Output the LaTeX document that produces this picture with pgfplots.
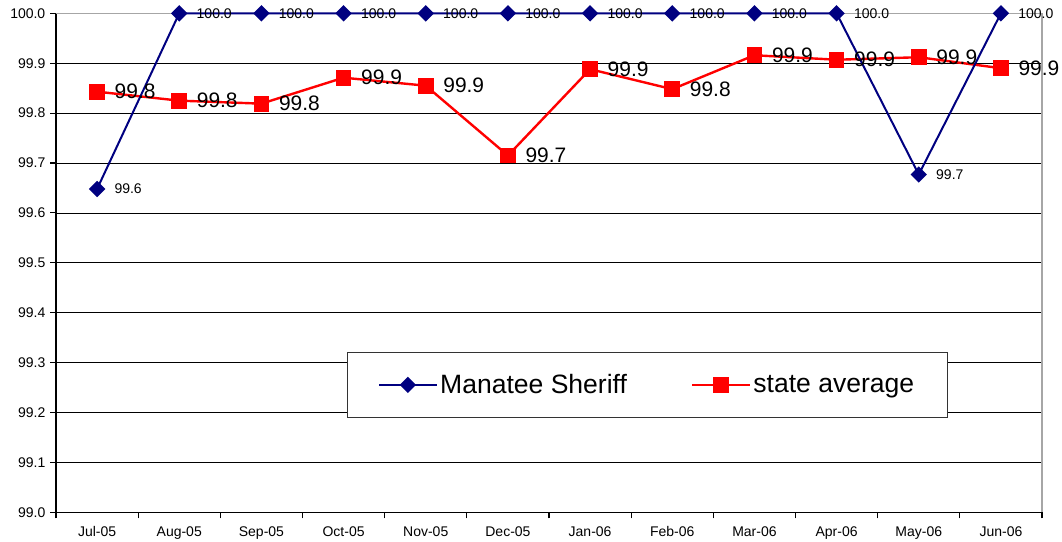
\documentclass[border=0pt]{standalone}
\usepackage{fontspec}
\setmainfont{Liberation Sans}
\usepackage{pgfplots}
\pgfplotsset{compat=1.18}
\definecolor{sheriffblue}{HTML}{000080}
\definecolor{statered}{HTML}{FF0000}
\begin{document}
\begin{tikzpicture}
\path[use as bounding box] (-42pt,-21.75pt) rectangle (754.5pt,384.25pt);
\begin{axis}[
  at={(0,0)}, anchor=south west,
  scale only axis, width=739.5pt, height=374.25pt,
  xmin=-0.5, xmax=11.5, ymin=99, ymax=100,
  clip=false,
  axis x line*=bottom, axis y line*=left,
  axis line style={black, line width=1pt},
  xtick={0,...,11},
  xticklabels={Jul-05,Aug-05,Sep-05,Oct-05,Nov-05,Dec-05,Jan-06,Feb-06,Mar-06,Apr-06,May-06,Jun-06},
  xtick style={draw=none},
  xticklabel style={yshift=-2.5pt},
  extra x ticks={-0.5,0.5,1.5,2.5,3.5,4.5,5.5,6.5,7.5,8.5,9.5,10.5,11.5},
  extra x tick labels={},
  extra x tick style={xtick style={draw=black}},
  ytick={99.0,99.1,99.2,99.3,99.4,99.5,99.6,99.7,99.8,99.9,100.0},
  ymajorgrids, grid style={black, line width=0.6pt},
  tick align=outside, major tick length=4.5pt,
  tick style={black, line width=0.8pt},
  tick label style={font=\fontsize{10.5}{12}\selectfont},
  /pgf/number format/.cd, fixed, fixed zerofill, precision=1, assume math mode=true, /pgfplots/.cd,
  reverse legend,
  legend columns=2,
  legend image code/.code={\draw[mark repeat=2,mark phase=2,#1] plot coordinates {(0pt,0pt) (21.5pt,0pt) (43pt,0pt)};},
  legend style={at={(0.2951,0.189)}, anchor=south west, draw=black!80, line width=0.8pt,
    font=\fontsize{19.9}{24}\selectfont, inner xsep=23pt, inner ysep=14.5pt,
    /tikz/every even column/.append style={column sep=46pt}},
]
\draw[gray!70, line width=1.2pt] (rel axis cs:0,1) -- (rel axis cs:1,1) -- (rel axis cs:1,0);
\addplot[color=statered, line width=1.8pt, mark=square*, mark size=5pt,
  nodes near coords, point meta=y,
  every node near coord/.append style={anchor=west, xshift=9pt, text=black, font=\fontsize{15.7}{18}\selectfont}]
  coordinates {(0,99.843) (1,99.825) (2,99.819) (3,99.871) (4,99.855) (5,99.715) (6,99.888) (7,99.848) (8,99.916) (9,99.907) (10,99.912) (11,99.890)};
\addlegendentry{state average}
\addplot[color=sheriffblue, line width=1.5pt, mark=square*, mark size=3.6pt, mark options={rotate=45},
  nodes near coords, point meta=y,
  every node near coord/.append style={anchor=west, xshift=9pt, text=black, font=\fontsize{10.5}{12}\selectfont}]
  coordinates {(0,99.648) (1,100) (2,100) (3,100) (4,100) (5,100) (6,100) (7,100) (8,100) (9,100) (10,99.677) (11,100)};
\addlegendentry{Manatee Sheriff}
\end{axis}
\end{tikzpicture}
\end{document}
